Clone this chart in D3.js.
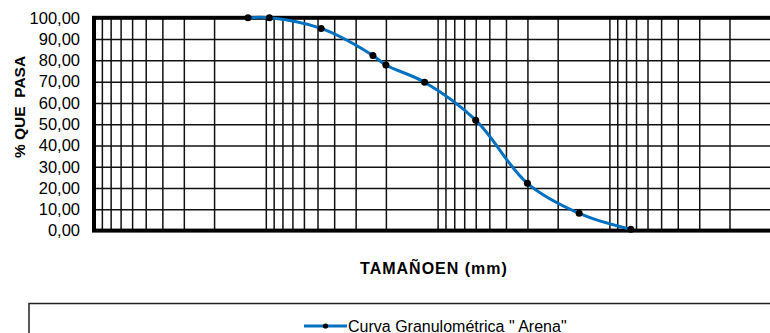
<!DOCTYPE html>
<html>
<head>
<meta charset="utf-8">
<script src="https://cdn.jsdelivr.net/npm/d3@7"></script>
<style>
  body { margin: 0; background: #fff; }
  svg { display: block; font-family: "Liberation Sans", Arial, sans-serif; }
</style>
</head>
<body>
<div id="chart"></div>
<script>
// sieve sizes (mm) and % passing
var sizes = [12.7, 9.525, 4.76, 2.38, 2.00, 1.19, 0.60, 0.30, 0.15, 0.075];
var pasa = [100, 100, 95.0, 82.3, 77.8, 69.7, 51.9, 22.2, 8.1, 0.6];
var yTicks = [0, 10, 20, 30, 40, 50, 60, 70, 80, 90, 100];
var decades = [0.01, 0.1, 1, 10];
var seriesName = 'Curva Granulométrica " Arena"';

var width = 770, height = 333;
// plot box (window.top is reserved, so prefixed names)
var plotL = 94, plotT = 17.8, plotB = 230.6, plotR = 781.2;

var svg = d3.select('#chart').append('svg')
    .attr('width', width)
    .attr('height', height);

// reversed log axis, 100 mm on the left
var x = d3.scaleLog().domain([100, 0.01]).range([plotL, plotR]);
var y = d3.scaleLinear().domain([0, 100]).range([plotB, plotT]);

var es = d3.formatLocale({decimal: ',', thousands: '.', grouping: [3], currency: ['', '']});
var fmt = es.format('.2f');

// every 1..9 x 10^k line of the log grid
var xGrid = [];
decades.forEach(function(d) {
  for (var m = 1; m <= 9; m++) xGrid.push(m * d);
});
xGrid.push(100);

var gx = svg.append('g')
    .attr('class', 'xgrid')
    .attr('transform', 'translate(0,' + plotB + ')')
    .call(d3.axisBottom(x).tickValues(xGrid).tickSize(-(plotB - plotT)).tickFormat(''));
gx.select('.domain').remove();
gx.selectAll('line').attr('stroke', '#111').attr('stroke-width', 1.5);

var gy = svg.append('g')
    .attr('class', 'ygrid')
    .attr('transform', 'translate(' + plotL + ',0)')
    .call(d3.axisLeft(y).tickValues(yTicks).tickSize(-(plotR - plotL)).tickFormat(fmt).tickPadding(14));
gy.select('.domain').remove();
gy.selectAll('line').attr('stroke', '#111').attr('stroke-width', 1.5);
gy.selectAll('text')
    .attr('fill', '#000')
    .style('font-size', '16.5px')
    .style('font-family', '"Liberation Sans", Arial, sans-serif');

// heavy plot frame
svg.append('rect')
    .attr('x', plotL)
    .attr('y', plotT)
    .attr('width', plotR - plotL)
    .attr('height', plotB - plotT)
    .attr('fill', 'none')
    .attr('stroke', '#000')
    .attr('stroke-width', 4);

var pts = sizes.map(function(s, i) { return [s, pasa[i]]; });

var line = d3.line()
    .x(function(d) { return x(d[0]); })
    .y(function(d) { return y(d[1]); })
    .curve(d3.curveCatmullRom.alpha(0.5));

svg.append('path')
    .datum(pts)
    .attr('d', line)
    .attr('fill', 'none')
    .attr('stroke', '#0070C0')
    .attr('stroke-width', 3);

svg.selectAll('circle.pt')
    .data(pts)
    .enter()
    .append('circle')
    .attr('class', 'pt')
    .attr('cx', function(d) { return x(d[0]); })
    .attr('cy', function(d) { return y(d[1]); })
    .attr('r', 3.5)
    .attr('fill', '#000');

// axis titles
svg.append('text')
    .attr('transform', 'translate(25,107) rotate(-90)')
    .attr('text-anchor', 'middle')
    .style('font-size', '15.5px')
    .style('font-weight', 'bold')
    .attr('xml:space', 'preserve')
    .text('% QUE  PASA');

svg.append('text')
    .attr('x', 434)
    .attr('y', 274)
    .attr('text-anchor', 'middle')
    .style('font-size', '16px')
    .style('font-weight', 'bold')
    .style('letter-spacing', '1px')
    .text('TAMAÑOEN (mm)');

// legend
svg.append('rect')
    .attr('x', 29)
    .attr('y', 303.5)
    .attr('width', 800)
    .attr('height', 100)
    .attr('fill', 'none')
    .attr('stroke', '#222')
    .attr('stroke-width', 1.5);

svg.append('line')
    .attr('x1', 304)
    .attr('x2', 347)
    .attr('y1', 326)
    .attr('y2', 326)
    .attr('stroke', '#0070C0')
    .attr('stroke-width', 3);

svg.append('circle')
    .attr('cx', 325.5)
    .attr('cy', 326)
    .attr('r', 2.6)
    .attr('fill', '#000');

svg.append('text')
    .attr('x', 348)
    .attr('y', 331.5)
    .style('font-size', '16px')
    .attr('xml:space', 'preserve')
    .text(seriesName);
</script>
</body>
</html>
